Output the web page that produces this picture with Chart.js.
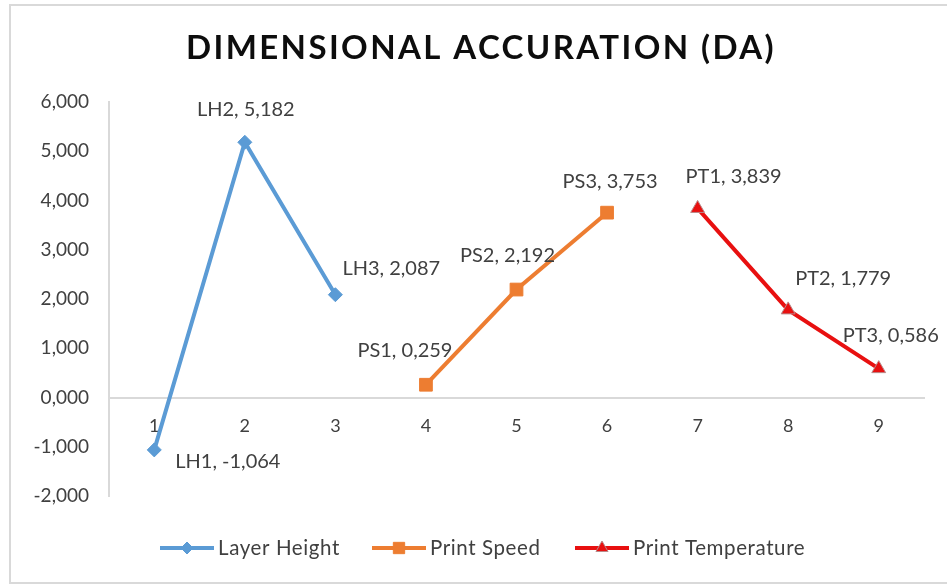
<!DOCTYPE html>
<html>
<head>
<meta charset="utf-8">
<script src="https://cdn.jsdelivr.net/npm/chart.js@4/dist/chart.umd.min.js"></script>
<style>
  html, body { margin: 0; padding: 0; background: #fff; }
  #wrap { width: 947px; height: 586px; position: relative; }
</style>
</head>
<body>
<div id="wrap"><canvas id="c" width="947" height="586"></canvas></div>
<script>
// ---- data ----
const chartTitle = 'DIMENSIONAL ACCURATION (DA)';
const categories = ['1', '2', '3', '4', '5', '6', '7', '8', '9'];
const seriesNames = ['Layer Height', 'Print Speed', 'Print Temperature'];
const layerHeight = [-1.064, 5.182, 2.087, null, null, null, null, null, null];
const printSpeed = [null, null, null, 0.259, 2.192, 3.753, null, null, null];
const printTemperature = [null, null, null, null, null, null, 3.839, 1.779, 0.586];
const pointNames = ['LH1', 'LH2', 'LH3', 'PS1', 'PS2', 'PS3', 'PT1', 'PT2', 'PT3'];
const yTicks = [-2, -1, 0, 1, 2, 3, 4, 5, 6];

// ---- styles ----
const FONT = 'Lato, "Open Sans", sans-serif';
const colors = ['#5B9BD5', '#ED7D31', '#E81010'];
const pointStyles = ['rectRot', 'rect', 'triangle'];
const pointRadii = [7, 9, 8];
// label placement (pixel offsets from the point, and text alignment)
const labelPlace = [
  { dx: 21, dy: 12, align: 'left' },
  { dx: 1, dy: -33, align: 'center' },
  { dx: 7, dy: -26, align: 'left' },
  { dx: -21, dy: -34, align: 'center' },
  { dx: -9, dy: -34, align: 'center' },
  { dx: 3, dy: -31, align: 'center' },
  { dx: -12, dy: -32, align: 'left' },
  { dx: 7, dy: -31, align: 'left' },
  { dx: -36, dy: -33, align: 'left' }
];
const legendStarts = [160, 372, 575];

const fmt = v => v.toFixed(3).replace('.', ',');

const seriesData = [layerHeight, printSpeed, printTemperature];

const datasets = seriesData.map((d, i) => ({
  label: seriesNames[i],
  data: d,
  borderColor: colors[i],
  backgroundColor: colors[i],
  borderWidth: 4,
  pointStyle: pointStyles[i],
  pointRadius: pointRadii[i],
  pointHoverRadius: pointRadii[i],
  pointBackgroundColor: colors[i],
  pointBorderColor: i === 2 ? '#B98A8A' : colors[i],
  pointBorderWidth: 1,
  spanGaps: false,
  tension: 0
}));

const framePlugin = {
  id: 'frame',
  beforeDraw(chart) {
    const ctx = chart.ctx;
    ctx.save();
    ctx.fillStyle = '#fff';
    ctx.fillRect(0, 0, chart.width, chart.height);
    ctx.strokeStyle = '#D9D9D9';
    ctx.lineWidth = 2;
    ctx.beginPath();
    ctx.moveTo(chart.width + 2, 5);
    ctx.lineTo(10, 5);
    ctx.lineTo(10, 583);
    ctx.lineTo(chart.width + 2, 583);
    ctx.stroke();
    // title
    ctx.fillStyle = '#0D0D0D';
    ctx.font = 'bold 33px ' + FONT;
    ctx.textBaseline = 'middle';
    ctx.textAlign = 'left';
    ctx.letterSpacing = '2.4px';
    const w = ctx.measureText(chartTitle).width;
    ctx.fillText(chartTitle, 481 - w / 2, 48);
    ctx.restore();
  }
};

const labelPlugin = {
  id: 'pointLabels',
  afterDatasetsDraw(chart) {
    const ctx = chart.ctx;
    ctx.save();
    ctx.font = '20px ' + FONT;
    ctx.fillStyle = '#404040';
    ctx.textBaseline = 'middle';
    chart.data.datasets.forEach((ds, di) => {
      const meta = chart.getDatasetMeta(di);
      meta.data.forEach((pt, idx) => {
        const v = ds.data[idx];
        if (v === null || v === undefined) return;
        const p = labelPlace[idx];
        ctx.textAlign = p.align;
        ctx.fillText(pointNames[idx] + ', ' + fmt(v), pt.x + p.dx, pt.y + p.dy);
      });
    });
    ctx.restore();
  }
};

const legendPlugin = {
  id: 'customLegend',
  afterDraw(chart) {
    const ctx = chart.ctx;
    ctx.save();
    ctx.font = '20.5px ' + FONT;
    ctx.letterSpacing = '0.6px';
    ctx.textBaseline = 'middle';
    ctx.textAlign = 'left';
    const y = 548;
    const lineLen = 54;
    const gap = 4;
    seriesNames.forEach((n, i) => {
      const x = legendStarts[i];
      ctx.strokeStyle = colors[i];
      ctx.lineWidth = 4;
      ctx.beginPath();
      ctx.moveTo(x, y);
      ctx.lineTo(x + lineLen, y);
      ctx.stroke();
      ctx.fillStyle = colors[i];
      ctx.strokeStyle = i === 2 ? '#B98A8A' : colors[i];
      ctx.lineWidth = 1;
      Chart.helpers.drawPoint(ctx, {
        pointStyle: pointStyles[i],
        radius: pointRadii[i] - 1,
        borderWidth: 1,
        rotation: 0
      }, x + lineLen / 2, y);
      ctx.fillStyle = '#404040';
      ctx.fillText(n, x + lineLen + gap, y);
    });
    ctx.restore();
  }
};

new Chart(document.getElementById('c'), {
  type: 'line',
  data: { labels: categories, datasets },
  plugins: [framePlugin, labelPlugin, legendPlugin],
  options: {
    responsive: false,
    animation: false,
    devicePixelRatio: 1,
    layout: { padding: { top: 102, left: 0, right: 23, bottom: 90 } },
    plugins: {
      legend: { display: false },
      tooltip: { enabled: false },
      title: { display: false }
    },
    scales: {
      x: {
        type: 'category',
        position: { y: 0 },
        offset: true,
        grid: { display: false, drawTicks: false },
        border: { display: true, color: '#D9D9D9', width: 2 },
        ticks: { color: '#404040', font: { family: FONT, size: 18 }, padding: 18, maxRotation: 0 }
      },
      y: {
        min: -2,
        max: 6,
        afterBuildTicks(scale) { scale.ticks = yTicks.map(v => ({ value: v })); },
        afterFit(scale) { scale.width = 109; },
        grid: { display: false, drawTicks: false },
        border: { display: true, color: '#D9D9D9', width: 2 },
        ticks: {
          color: '#404040',
          font: { family: FONT, size: 19 },
          padding: 20,
          callback: v => fmt(v)
        }
      }
    }
  }
});
</script>
</body>
</html>
